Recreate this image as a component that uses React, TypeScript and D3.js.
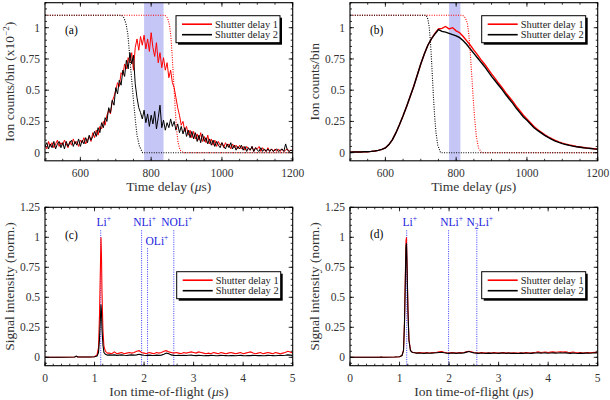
import React from 'react';
import * as d3 from 'd3';

const FONT = "'Liberation Serif', 'Times New Roman', Times, serif";
const BLUE_TXT = '#2323e0';
const BLUE_LINE = '#3a3aff';
const BAND = '#c6c6f6';

// ---------- Panel (a): time delay scan, low signal ----------
const delayA = d3.range(500, 1200.1, 5); // 5 µs bins
const aRed = [
  0.06, 0.03, 0.09, 0.05, 0.08, 0.04, 0.07, 0.10, 0.05, 0.08,
  0.06, 0.10, 0.07, 0.04, 0.09, 0.06, 0.11, 0.07, 0.09, 0.05,
  0.10, 0.08, 0.12, 0.07, 0.10, 0.13, 0.09, 0.16, 0.12, 0.18,
  0.14, 0.21, 0.19, 0.25, 0.22, 0.30, 0.34, 0.31, 0.41, 0.45,
  0.50, 0.56, 0.53, 0.64, 0.62, 0.71, 0.67, 0.76, 0.72, 0.80,
  0.66, 0.84, 0.91, 0.82, 0.93, 0.86, 0.94, 0.83, 0.91, 0.81,
  0.96, 0.84, 0.77, 0.88, 0.72, 0.80, 0.68, 0.76, 0.66, 0.72,
  0.60, 0.66, 0.56, 0.52, 0.44, 0.36, 0.30, 0.22, 0.25, 0.17,
  0.21, 0.14, 0.18, 0.12, 0.17, 0.11, 0.15, 0.10, 0.16, 0.09,
  0.13, 0.08, 0.14, 0.07, 0.11, 0.06, 0.10, 0.05, 0.09, 0.06,
  0.08, 0.04, 0.08, 0.05, 0.07, 0.03, 0.07, 0.04, 0.06, 0.03,
  0.06, 0.03, 0.05, 0.02, 0.05, 0.03, 0.02, 0.05, 0.01, 0.04,
  0.03, 0.05, 0.01, 0.04, 0.02, 0.01, 0.04, 0.01, 0.03, 0.01,
  0.03, 0.01, 0.03, 0.01, 0.03, 0.01, 0.02, 0.03, 0.01, 0.02,
  0.02,
];
const aBlack = [
  0.05, 0.08, 0.03, 0.07, 0.04, 0.09, 0.03, 0.07, 0.09, 0.04,
  0.08, 0.03, 0.09, 0.05, 0.08, 0.10, 0.05, 0.09, 0.06, 0.11,
  0.05, 0.10, 0.07, 0.12, 0.08, 0.14, 0.10, 0.13, 0.17, 0.13,
  0.20, 0.16, 0.24, 0.20, 0.28, 0.25, 0.36, 0.32, 0.42, 0.38,
  0.52, 0.47, 0.58, 0.54, 0.66, 0.61, 0.74, 0.67, 0.80, 0.71,
  0.78, 0.55, 0.44, 0.36, 0.32, 0.27, 0.34, 0.24, 0.31, 0.21,
  0.30, 0.23, 0.33, 0.19, 0.28, 0.38, 0.20, 0.26, 0.18, 0.24,
  0.20, 0.27, 0.21, 0.25, 0.18, 0.23, 0.16, 0.21, 0.15, 0.20,
  0.13, 0.18, 0.12, 0.17, 0.11, 0.16, 0.09, 0.14, 0.08, 0.15,
  0.09, 0.12, 0.07, 0.11, 0.06, 0.10, 0.05, 0.09, 0.06, 0.04,
  0.08, 0.05, 0.03, 0.07, 0.04, 0.08, 0.03, 0.06, 0.02, 0.05,
  0.03, 0.06, 0.02, 0.05, 0.01, 0.04, 0.02, 0.05, 0.01, 0.04,
  0.02, 0.01, 0.04, 0.01, 0.03, 0.01, 0.03, 0.01, 0.03, 0.01,
  0.02, 0.03, 0.01, 0.02, 0.03, 0.01, 0.07, 0.02, 0.01, 0.02,
  0.01,
];
const shutA1X = [500, 838, 846, 852, 856, 860, 864, 868, 872, 876, 882, 890, 1200];
const shutA1Y = [1.1, 1.1, 1.08, 1.02, 0.92, 0.75, 0.55, 0.35, 0.18, 0.08, 0.02, 0, 0];
const shutA2X = [500, 716, 723, 729, 734, 738, 742, 746, 750, 755, 760, 767, 776, 1200];
const shutA2Y = [1.1, 1.1, 1.08, 1.03, 0.95, 0.82, 0.68, 0.55, 0.42, 0.27, 0.14, 0.05, 0, 0];
const bandA = [780, 835];

// ---------- Panel (b): time delay scan, high signal ----------
const delayB = d3.range(500, 1200.1, 10);
const bRed = [
  0.004, 0.005, 0.005, 0.006, 0.007, 0.008, 0.010, 0.013, 0.018, 0.026,
  0.038, 0.065, 0.105, 0.16, 0.225, 0.295, 0.37, 0.45, 0.53, 0.62,
  0.71, 0.79, 0.86, 0.91, 0.955, 0.99, 0.995, 1.01, 0.99, 1.0,
  0.975, 0.96, 0.93, 0.895, 0.86, 0.82, 0.785, 0.745, 0.71, 0.67,
  0.63, 0.595, 0.555, 0.52, 0.48, 0.445, 0.41, 0.37, 0.335, 0.30,
  0.27, 0.24, 0.21, 0.185, 0.165, 0.145, 0.127, 0.112, 0.098, 0.086,
  0.076, 0.068, 0.061, 0.055, 0.049, 0.045, 0.041, 0.037, 0.034, 0.031,
  0.028,
];
const bBlack = [
  0.004, 0.005, 0.005, 0.006, 0.007, 0.008, 0.010, 0.013, 0.018, 0.026,
  0.038, 0.065, 0.105, 0.16, 0.225, 0.295, 0.37, 0.45, 0.53, 0.62,
  0.71, 0.79, 0.86, 0.91, 0.95, 0.985, 0.97, 0.965, 0.955, 0.945,
  0.935, 0.92, 0.895, 0.865, 0.83, 0.795, 0.76, 0.725, 0.69, 0.65,
  0.61, 0.575, 0.54, 0.505, 0.465, 0.43, 0.395, 0.355, 0.32, 0.285,
  0.26, 0.23, 0.20, 0.178, 0.158, 0.138, 0.122, 0.107, 0.093, 0.082,
  0.073, 0.065, 0.058, 0.052, 0.047, 0.043, 0.039, 0.036, 0.033, 0.03,
  0.028,
];
const shutB1X = [500, 818, 826, 832, 836, 840, 844, 848, 852, 857, 863, 872, 1200];
const shutB1Y = [1.1, 1.1, 1.08, 1.03, 0.94, 0.8, 0.62, 0.44, 0.28, 0.13, 0.04, 0, 0];
const shutB2X = [500, 715, 720, 724, 727, 730, 733, 736, 739, 743, 748, 756, 1200];
const shutB2Y = [1.1, 1.1, 1.07, 1.0, 0.9, 0.76, 0.6, 0.44, 0.3, 0.16, 0.06, 0, 0];
const bandB = [780, 812];

// ---------- Panels (c),(d): time-of-flight spectra ----------
const tofPeakX = [0, 0.3, 0.6, 0.63, 0.66, 0.9, 1.0, 1.05, 1.08, 1.1, 1.12, 1.13, 1.14, 1.15, 1.17, 1.19, 1.22, 1.26];
const tofTailX = d3.range(1.3, 5.0001, 0.05);
const tofX = [...tofPeakX, ...tofTailX];

const cRed = [
  0, 0, 0.002, 0.008, 0.002, 0.002, 0.005, 0.02, 0.08, 0.35, 0.78, 1.0, 0.85, 0.55, 0.22, 0.09, 0.05, 0.035,
  0.035, 0.03, 0.045, 0.03, 0.035, 0.04, 0.03, 0.035, 0.04, 0.035,
  0.04, 0.05, 0.055, 0.04, 0.035, 0.03, 0.04, 0.035, 0.03, 0.04,
  0.035, 0.04, 0.05, 0.055, 0.045, 0.04, 0.035, 0.04, 0.035, 0.03,
  0.04, 0.035, 0.04, 0.045, 0.04, 0.035, 0.045, 0.04, 0.035, 0.03,
  0.035, 0.03, 0.04, 0.035, 0.03, 0.04, 0.035, 0.03, 0.035, 0.04,
  0.035, 0.03, 0.035, 0.04, 0.03, 0.035, 0.04, 0.045, 0.035, 0.03,
  0.035, 0.04, 0.03, 0.035, 0.04, 0.035, 0.03, 0.04, 0.035, 0.03,
  0.035, 0.04, 0.05, 0.045, 0.035,
];
const cBlack = [
  0, 0, 0.002, 0.01, 0.002, 0.002, 0.004, 0.01, 0.04, 0.15, 0.34, 0.44, 0.38, 0.24, 0.1, 0.04, 0.025, 0.018,
  0.02, 0.018, 0.02, 0.016, 0.018, 0.02, 0.017, 0.015, 0.018, 0.02,
  0.018, 0.02, 0.025, 0.02, 0.017, 0.015, 0.018, 0.016, 0.015, 0.018,
  0.016, 0.018, 0.025, 0.035, 0.03, 0.02, 0.016, 0.015, 0.017, 0.015,
  0.016, 0.015, 0.017, 0.018, 0.015, 0.014, 0.016, 0.015, 0.013, 0.015,
  0.014, 0.016, 0.015, 0.013, 0.014, 0.016, 0.015, 0.014, 0.013, 0.015,
  0.014, 0.013, 0.015, 0.016, 0.014, 0.013, 0.015, 0.014, 0.016, 0.015,
  0.014, 0.015, 0.013, 0.014, 0.016, 0.015, 0.014, 0.013, 0.015, 0.016,
  0.015, 0.017, 0.02, 0.018, 0.016,
];
const dRed = [
  0, 0, 0.001, 0.003, 0.001, 0.002, 0.004, 0.015, 0.06, 0.3, 0.75, 0.97, 1.0, 0.8, 0.4, 0.15, 0.06, 0.04,
  0.04, 0.035, 0.04, 0.038, 0.035, 0.04, 0.036, 0.038, 0.04, 0.042,
  0.045, 0.048, 0.042, 0.038, 0.036, 0.04, 0.038, 0.036, 0.04, 0.038,
  0.04, 0.045, 0.05, 0.045, 0.04, 0.038, 0.036, 0.04, 0.038, 0.036,
  0.038, 0.036, 0.04, 0.038, 0.036, 0.038, 0.04, 0.036, 0.038, 0.036,
  0.038, 0.036, 0.035, 0.038, 0.036, 0.04, 0.038, 0.036, 0.04, 0.042,
  0.045, 0.04, 0.042, 0.044, 0.04, 0.043, 0.045, 0.042, 0.044, 0.046,
  0.043, 0.045, 0.042, 0.04, 0.044, 0.04, 0.038, 0.04, 0.036, 0.038,
  0.04, 0.038, 0.04, 0.042, 0.04,
];
const dBlack = [
  0, 0, 0.001, 0.003, 0.001, 0.002, 0.004, 0.015, 0.055, 0.28, 0.7, 0.92, 0.95, 0.78, 0.38, 0.14, 0.055, 0.04,
  0.038, 0.035, 0.036, 0.034, 0.033, 0.036, 0.034, 0.035, 0.036, 0.038,
  0.04, 0.042, 0.038, 0.035, 0.033, 0.036, 0.035, 0.033, 0.036, 0.035,
  0.037, 0.043, 0.048, 0.042, 0.037, 0.035, 0.033, 0.036, 0.034, 0.033,
  0.035, 0.033, 0.036, 0.034, 0.033, 0.035, 0.036, 0.033, 0.035, 0.033,
  0.034, 0.033, 0.032, 0.035, 0.033, 0.036, 0.034, 0.033, 0.035, 0.036,
  0.038, 0.035, 0.036, 0.037, 0.034, 0.036, 0.037, 0.035, 0.036, 0.037,
  0.036, 0.037, 0.035, 0.033, 0.036, 0.034, 0.032, 0.035, 0.033, 0.035,
  0.036, 0.034, 0.036, 0.037, 0.036,
];

const cPeaks = [
  { name: 'Li', sub: '', tof: 1.125, low: false },
  { name: 'NLi', sub: '', tof: 1.95, low: false },
  { name: 'OLi', sub: '', tof: 2.07, low: true },
  { name: 'NOLi', sub: '', tof: 2.6, low: false },
];
const dPeaks = [
  { name: 'Li', sub: '', tof: 1.145, low: false },
  { name: 'NLi', sub: '', tof: 1.99, low: false },
  { name: 'N2Li', sub: '2', tof: 2.56, low: false },
];

const delayTicks = [600, 800, 1000, 1200];
const delayMinor = d3.range(500, 1200.1, 50);
const countTicks = [0, 0.25, 0.5, 0.75, 1];
const countMinor = d3.range(-0.05, 1.2001, 0.05);
const tofTicks = [0, 1, 2, 3, 4, 5];
const tofMinor = d3.range(0, 5.0001, 1 / 6);
const intTicks = [0, 0.25, 0.5, 0.75, 1, 1.25];
const intMinor = d3.range(-0.05, 1.2501, 0.05);
const legendLabels = ['Shutter delay 1', 'Shutter delay 2'];
const seriesColors = ['#ff0000', '#000000'];

type Scale = d3.ScaleLinear<number, number>;

function mkLine(xs: Scale, ys: Scale, X: number[], Y: number[]) {
  const pts: [number, number][] = X.map((x, i) => [x, Y[i]]);
  return d3.line<[number, number]>().x((d) => xs(d[0])).y((d) => ys(d[1]))(pts) || '';
}

const fs = (size: number) => ({ fontFamily: FONT, fontSize: size });

function Frame({ id, xs, ys, xMajor, xMinor, yMajor, yMinor, xLabel, yLabel, yLabelX, tag, tagX, tagY, children }: any) {
  const [l, r] = xs.range();
  const [b, t] = ys.range();
  const inX = (v: number) => v >= xs.domain()[0] - 1e-6 && v <= xs.domain()[1] + 1e-6;
  const inY = (v: number) => v >= ys.domain()[0] - 1e-6 && v <= ys.domain()[1] + 1e-6;
  const M = 4, m = 2;
  return (
    <g>
      <defs>
        <clipPath id={id}>
          <rect x={l} y={t} width={r - l} height={b - t} />
        </clipPath>
      </defs>
      <g clipPath={`url(#${id})`}>{children}</g>
      <g stroke="#000" strokeWidth={0.8}>
        {xMinor.filter(inX).map((v: number) => (
          <g key={'xm' + v}>
            <line x1={xs(v)} x2={xs(v)} y1={b} y2={b - m} />
            <line x1={xs(v)} x2={xs(v)} y1={t} y2={t + m} />
          </g>
        ))}
        {xMajor.filter(inX).map((v: number) => (
          <g key={'xM' + v}>
            <line x1={xs(v)} x2={xs(v)} y1={b} y2={b - M} />
            <line x1={xs(v)} x2={xs(v)} y1={t} y2={t + M} />
          </g>
        ))}
        {yMinor.filter(inY).map((v: number) => (
          <g key={'ym' + v}>
            <line x1={l} x2={l + m} y1={ys(v)} y2={ys(v)} />
            <line x1={r} x2={r - m} y1={ys(v)} y2={ys(v)} />
          </g>
        ))}
        {yMajor.filter(inY).map((v: number) => (
          <g key={'yM' + v}>
            <line x1={l} x2={l + M} y1={ys(v)} y2={ys(v)} />
            <line x1={r} x2={r - M} y1={ys(v)} y2={ys(v)} />
          </g>
        ))}
      </g>
      <rect x={l} y={t} width={r - l} height={b - t} fill="none" stroke="#000" strokeWidth={1.1} />
      <g style={fs(11.5)} fill="#333">
        {xMajor.map((v: number) => (
          <text key={'xl' + v} x={xs(v)} y={b + 16} textAnchor="middle">{String(v)}</text>
        ))}
        {yMajor.map((v: number) => (
          <text key={'yl' + v} x={l - 5} y={ys(v)} dy="0.35em" textAnchor="end">{String(v)}</text>
        ))}
      </g>
      <text x={(l + r) / 2} y={b + 30} textAnchor="middle" style={fs(13.5)} fill="#333">
        {xLabel}
      </text>
      <text transform={`translate(${yLabelX},${(t + b) / 2}) rotate(-90)`} textAnchor="middle" style={fs(13.5)} fill="#333">
        {yLabel}
      </text>
      <text x={tagX} y={tagY} style={fs(11.5)} fill="#000">{tag}</text>
    </g>
  );
}

function Legend({ x, y }: { x: number; y: number }) {
  const w = 104, h = 27;
  return (
    <g>
      <rect x={x + 2} y={y + 2} width={w} height={h} fill="#000" />
      <rect x={x} y={y} width={w} height={h} fill="#fff" stroke="#000" strokeWidth={1} />
      {legendLabels.map((lab, i) => (
        <g key={lab}>
          <line x1={x + 6} x2={x + 36} y1={y + 8.5 + i * 10.5} y2={y + 8.5 + i * 10.5} stroke={seriesColors[i]} strokeWidth={1.6} />
          <text x={x + 39} y={y + 12 + i * 10.5} style={fs(10.4)} fill="#222">{lab}</text>
        </g>
      ))}
    </g>
  );
}

function PeakLabels({ xs, ys, peaks }: { xs: Scale; ys: Scale; peaks: any[] }) {
  const [b, t] = ys.range();
  return (
    <g>
      {peaks.map((p) => {
        const px = xs(p.tof);
        const lineTop = p.low ? t + 41 : t + 23;
        return (
          <line key={'pl' + p.name} x1={px} x2={px} y1={lineTop} y2={b} stroke={BLUE_LINE} strokeWidth={1} strokeDasharray="1 1.3" />
        );
      })}
    </g>
  );
}

function PeakTexts({ xs, ys, peaks }: { xs: Scale; ys: Scale; peaks: any[] }) {
  const t = ys.range()[1];
  return (
    <g style={fs(11.5)} fill={BLUE_TXT}>
      {peaks.map((p) => {
        const px = xs(p.tof);
        if (p.low) {
          return (
            <text key={'pt' + p.name} x={px - 2} y={t + 38}>
              {p.name}
              <tspan dy={-5} fontSize={7.5}>+</tspan>
            </text>
          );
        }
        if (p.sub) {
          return (
            <text key={'pt' + p.name} x={px + 3} y={t + 19} textAnchor="middle">
              N<tspan dy={3} fontSize={7.5}>{p.sub}</tspan>
              <tspan dy={-3}>Li</tspan>
              <tspan dy={-5} fontSize={7.5}>+</tspan>
            </text>
          );
        }
        return (
          <text key={'pt' + p.name} x={px + 3} y={t + 19} textAnchor="middle">
            {p.name}
            <tspan dy={-5} fontSize={7.5}>+</tspan>
          </text>
        );
      })}
    </g>
  );
}

const timeLabel = (
  <>
    Time delay (<tspan fontStyle="italic">μ</tspan>s)
  </>
);
const tofLabel = (
  <>
    Ion time-of-flight (<tspan fontStyle="italic">μ</tspan>s)
  </>
);

export default function App() {
  const xA = d3.scaleLinear().domain([500, 1200]).range([45, 292.7]);
  const xB = d3.scaleLinear().domain([500, 1200]).range([350, 597.7]);
  const yTop = d3.scaleLinear().domain([-0.065, 1.2]).range([160.8, 2.7]);
  const xC = d3.scaleLinear().domain([0, 5]).range([45, 292.7]);
  const xD = d3.scaleLinear().domain([0, 5]).range([350, 597.7]);
  const yBot = d3.scaleLinear().domain([-0.07, 1.25]).range([365.7, 207.3]);

  const dot = { fill: 'none', strokeWidth: 1.1, strokeDasharray: '1 1.4' };

  return (
    <svg width={610} height={400} style={{ position: 'absolute', left: 0, top: 0, background: '#fff', fontFamily: FONT }}>
      {/* (a) */}
      <Frame id="ca" xs={xA} ys={yTop} xMajor={delayTicks} xMinor={delayMinor} yMajor={countTicks} yMinor={countMinor}
        xLabel={timeLabel}
        yLabel={<>Ion counts/bin (x10<tspan dy={-5} fontSize={9}>−2</tspan><tspan dy={5}>)</tspan></>}
        yLabelX={14} tag="(a)" tagX={65} tagY={34}>
        <rect x={xA(bandA[0])} y={0} width={xA(bandA[1]) - xA(bandA[0])} height={400} fill={BAND} />
        <path d={mkLine(xA, yTop, delayA, aRed)} fill="none" stroke="#ff0000" strokeWidth={1} />
        <path d={mkLine(xA, yTop, delayA, aBlack)} fill="none" stroke="#000" strokeWidth={1} />
        <path d={mkLine(xA, yTop, shutA1X, shutA1Y)} stroke="#ff0000" {...dot} />
        <path d={mkLine(xA, yTop, shutA2X, shutA2Y)} stroke="#000" {...dot} />
      </Frame>
      <Legend x={176} y={15.7} />

      {/* (b) */}
      <Frame id="cb" xs={xB} ys={yTop} xMajor={delayTicks} xMinor={delayMinor} yMajor={countTicks} yMinor={countMinor}
        xLabel={timeLabel} yLabel={<>Ion counts/bin</>} yLabelX={319} tag="(b)" tagX={370} tagY={34}>
        <rect x={xB(bandB[0])} y={0} width={xB(bandB[1]) - xB(bandB[0])} height={400} fill={BAND} />
        <path d={mkLine(xB, yTop, delayB, bRed)} fill="none" stroke="#ff0000" strokeWidth={1.4} />
        <path d={mkLine(xB, yTop, delayB, bBlack)} fill="none" stroke="#000" strokeWidth={1.4} />
        <path d={mkLine(xB, yTop, shutB1X, shutB1Y)} stroke="#ff0000" {...dot} />
        <path d={mkLine(xB, yTop, shutB2X, shutB2Y)} stroke="#000" {...dot} />
      </Frame>
      <Legend x={481.7} y={15.7} />

      {/* (c) */}
      <Frame id="cc" xs={xC} ys={yBot} xMajor={tofTicks} xMinor={tofMinor} yMajor={intTicks} yMinor={intMinor}
        xLabel={tofLabel} yLabel={<>Signal intensity (norm.)</>} yLabelX={14} tag="(c)" tagX={65} tagY={239}>
        <PeakLabels xs={xC} ys={yBot} peaks={cPeaks} />
        <path d={mkLine(xC, yBot, tofX, cRed)} fill="none" stroke="#ff0000" strokeWidth={1.1} />
        <path d={mkLine(xC, yBot, tofX, cBlack)} fill="none" stroke="#000" strokeWidth={1.1} />
      </Frame>
      <PeakTexts xs={xC} ys={yBot} peaks={cPeaks} />
      <Legend x={176.7} y={271.7} />

      {/* (d) */}
      <Frame id="cd" xs={xD} ys={yBot} xMajor={tofTicks} xMinor={tofMinor} yMajor={intTicks} yMinor={intMinor}
        xLabel={tofLabel} yLabel={<>Signal intensity (norm.)</>} yLabelX={319} tag="(d)" tagX={370} tagY={238}>
        <PeakLabels xs={xD} ys={yBot} peaks={dPeaks} />
        <path d={mkLine(xD, yBot, tofX, dRed)} fill="none" stroke="#ff0000" strokeWidth={1.1} />
        <path d={mkLine(xD, yBot, tofX, dBlack)} fill="none" stroke="#000" strokeWidth={1.1} />
      </Frame>
      <PeakTexts xs={xD} ys={yBot} peaks={dPeaks} />
      <Legend x={481.7} y={271.7} />
    </svg>
  );
}
